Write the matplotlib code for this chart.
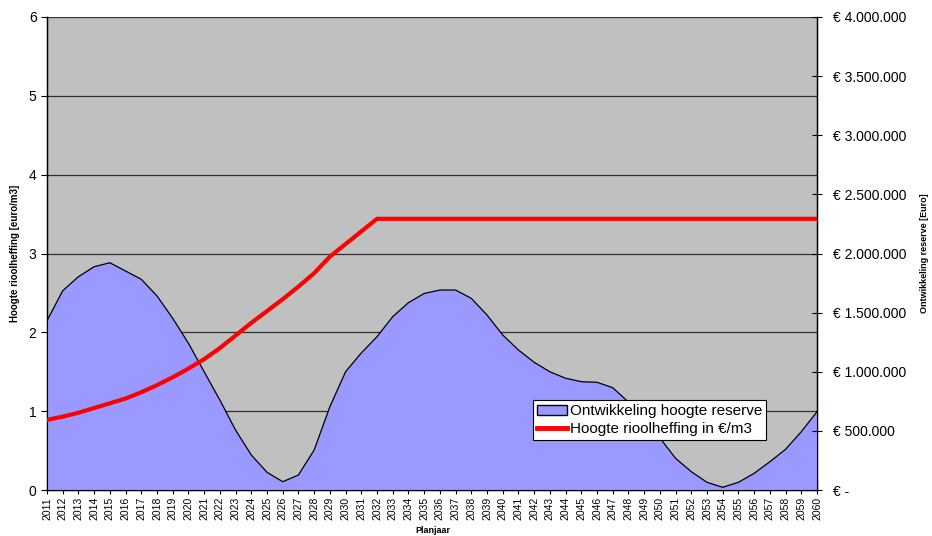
import matplotlib
matplotlib.use("Agg")
import matplotlib.pyplot as plt
from matplotlib.patches import Patch
from matplotlib.lines import Line2D
from matplotlib.ticker import FuncFormatter, MultipleLocator

plt.rcParams['font.family'] = ['Liberation Sans', 'DejaVu Sans']

years = list(range(2011, 2061))

# reserve in euro (right axis)
reserve = [1432000, 1685000, 1804000, 1888000, 1922000, 1852000, 1782000, 1641000,
           1452000, 1241000, 1000000, 761000, 507000, 296000, 150000, 70000,
           127000, 338000, 704000, 1000000, 1159000, 1296000, 1466000, 1584000,
           1662000, 1691000, 1691000, 1621000, 1480000, 1311000, 1184000, 1080000,
           1000000, 945000, 916000, 911000, 865000, 744000, 592000, 440000,
           268000, 155000, 65000, 23000, 65000, 141000, 239000, 344000,
           493000, 662000]

# rioolheffing in euro/m3 (left axis)
heffing = [0.89, 0.93, 0.98, 1.04, 1.10, 1.16, 1.24, 1.33, 1.43, 1.54,
           1.66, 1.80, 1.96, 2.12, 2.27, 2.42, 2.58, 2.75, 2.96, 3.12,
           3.28, 3.44, 3.44, 3.44, 3.44, 3.44, 3.44, 3.44, 3.44, 3.44,
           3.44, 3.44, 3.44, 3.44, 3.44, 3.44, 3.44, 3.44, 3.44, 3.44,
           3.44, 3.44, 3.44, 3.44, 3.44, 3.44, 3.44, 3.44, 3.44, 3.44]

x = list(range(len(years)))

fig = plt.figure(figsize=(9.32, 5.36), dpi=100)
ax = fig.add_axes([47 / 932, 46 / 536, 770 / 932, 473 / 536])
ax.set_facecolor('#C0C0C0')
ax.set_xlim(0, len(years) - 1)
ax.set_ylim(0, 6)
ax.yaxis.set_major_locator(MultipleLocator(1))
ax.grid(axis='y', color='#303030', linewidth=0.9)
ax.set_axisbelow(True)
ax.set_xticks(x)
ax.set_xticklabels([str(y) for y in years], rotation=90, fontsize=7.5)
ax.tick_params(axis='x', direction='inout', length=6, width=0.8, pad=2)
ax.tick_params(axis='y', direction='out', length=4, width=0.8, labelsize=10)
ax.spines['top'].set_visible(False)
for s in ['left', 'bottom', 'right']:
    ax.spines[s].set_linewidth(1)
ax.set_ylabel('Hoogte rioolheffing [euro/m3]', fontsize=7, fontweight='bold', labelpad=6)

# reserve area on right axis
ax2 = ax.twinx()
ax2.set_ylim(0, 4000000)
ax2.yaxis.set_major_locator(MultipleLocator(500000))
ax2.fill_between(x, reserve, 0, facecolor='#9999FF', edgecolor='none')
ax2.plot(x, reserve, color='black', linewidth=0.9)
ax2.yaxis.set_major_formatter(FuncFormatter(
    lambda v, p: '€ -' if v == 0 else '€ ' + format(int(v), ',').replace(',', '.')))
ax2.tick_params(axis='y', direction='inout', length=7, width=0.8, labelsize=10, pad=8)
ax2.spines['top'].set_visible(False)
ax2.set_ylabel('Ontwikkeling reserve [Euro]', fontsize=6.5, fontweight='bold', labelpad=10)

# red line on top
ax3 = ax.twinx()
ax3.set_ylim(0, 6)
ax3.plot(x, heffing, color='#FF0000', linewidth=3)
ax3.set_yticks([])
for s in ax3.spines.values():
    s.set_visible(False)

handles = [Patch(facecolor='#9999FF', edgecolor='black', linewidth=1),
           Line2D([], [], color='#FF0000', linewidth=3.5)]
labels = ['Ontwikkeling hoogte reserve', 'Hoogte rioolheffing in €/m3']
leg = ax3.legend(handles, labels, loc='lower left', bbox_to_anchor=(0.631, 0.106),
                 fontsize=11, frameon=True, fancybox=False, framealpha=1,
                 edgecolor='black', borderpad=0.25, labelspacing=0.25,
                 handlelength=2.0, handletextpad=0.15, borderaxespad=0)
leg.get_frame().set_linewidth(0.8)

fig.text(433 / 932, 1 / 536, 'Planjaar', ha='center', va='bottom',
         fontsize=6.5, fontweight='bold')

fig.savefig('out.png', dpi=100)
